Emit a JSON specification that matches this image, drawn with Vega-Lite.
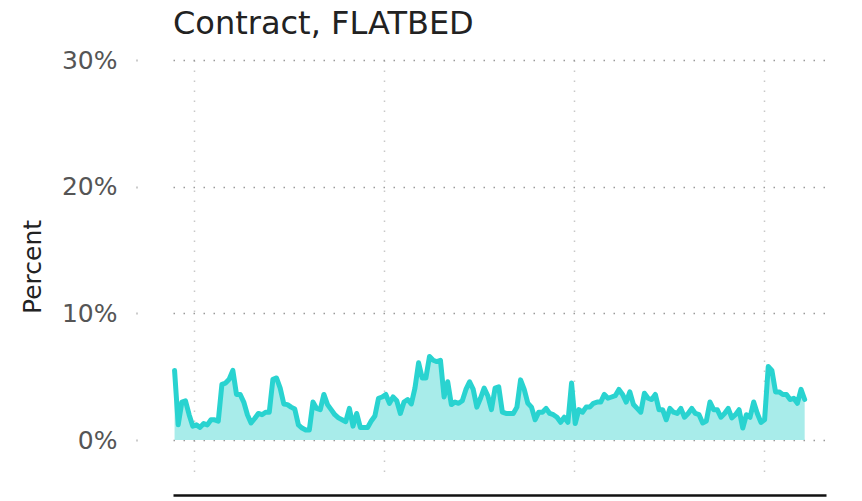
{
  "$schema": "https://vega.github.io/schema/vega-lite/v6.json",
  "autosize": {"type": "none"},
  "padding": {"left": 173, "top": 60, "right": 36, "bottom": 28},
  "width": 653,
  "height": 413,
  "background": "white",
  "title": {"text": "Contract, FLATBED", "anchor": "start", "frame": "group", "font": "DejaVu Sans", "fontSize": 32, "fontWeight": "normal", "color": "#222222", "offset": 7},
  "config": {"view": {"stroke": null}, "font": "DejaVu Sans"},
  "data": {"values": [
    {"date":"2018-11-25","pct":5.5},{"date":"2018-12-02","pct":1.2},{"date":"2018-12-09","pct":3.0},{"date":"2018-12-16","pct":3.1},{"date":"2018-12-23","pct":2.0},{"date":"2018-12-30","pct":1.1},
    {"date":"2019-01-06","pct":1.2},{"date":"2019-01-13","pct":1.0},{"date":"2019-01-20","pct":1.3},{"date":"2019-01-27","pct":1.2},{"date":"2019-02-03","pct":1.6},{"date":"2019-02-10","pct":1.6},{"date":"2019-02-17","pct":1.5},{"date":"2019-02-24","pct":4.4},{"date":"2019-03-03","pct":4.5},{"date":"2019-03-10","pct":4.8},{"date":"2019-03-17","pct":5.5},{"date":"2019-03-24","pct":3.6},{"date":"2019-03-31","pct":3.6},{"date":"2019-04-07","pct":3.0},{"date":"2019-04-14","pct":2.0},{"date":"2019-04-21","pct":1.35},{"date":"2019-04-28","pct":1.7},{"date":"2019-05-05","pct":2.1},{"date":"2019-05-12","pct":2.0},{"date":"2019-05-19","pct":2.2},{"date":"2019-05-26","pct":2.2},{"date":"2019-06-02","pct":4.8},{"date":"2019-06-09","pct":4.9},{"date":"2019-06-16","pct":4.1},{"date":"2019-06-23","pct":2.85},{"date":"2019-06-30","pct":2.8},{"date":"2019-07-07","pct":2.6},{"date":"2019-07-14","pct":2.45},{"date":"2019-07-21","pct":1.2},{"date":"2019-07-28","pct":0.95},{"date":"2019-08-04","pct":0.8},{"date":"2019-08-11","pct":0.8},{"date":"2019-08-18","pct":3.0},{"date":"2019-08-25","pct":2.5},{"date":"2019-09-01","pct":2.4},{"date":"2019-09-08","pct":3.6},{"date":"2019-09-15","pct":2.8},{"date":"2019-09-22","pct":2.4},{"date":"2019-09-29","pct":2.0},{"date":"2019-10-06","pct":1.75},{"date":"2019-10-13","pct":1.6},{"date":"2019-10-20","pct":1.45},{"date":"2019-10-27","pct":2.5},{"date":"2019-11-03","pct":1.1},{"date":"2019-11-10","pct":2.1},{"date":"2019-11-17","pct":1.0},{"date":"2019-11-24","pct":1.0},{"date":"2019-12-01","pct":1.0},{"date":"2019-12-08","pct":1.5},{"date":"2019-12-15","pct":1.9},{"date":"2019-12-22","pct":3.3},{"date":"2019-12-29","pct":3.4},
    {"date":"2020-01-05","pct":3.6},{"date":"2020-01-12","pct":2.9},{"date":"2020-01-19","pct":3.4},{"date":"2020-01-26","pct":3.1},{"date":"2020-02-02","pct":2.1},{"date":"2020-02-09","pct":3.0},{"date":"2020-02-16","pct":3.2},{"date":"2020-02-23","pct":2.85},{"date":"2020-03-01","pct":4.1},{"date":"2020-03-08","pct":6.1},{"date":"2020-03-15","pct":4.9},{"date":"2020-03-22","pct":4.9},{"date":"2020-03-29","pct":6.6},{"date":"2020-04-05","pct":6.3},{"date":"2020-04-12","pct":6.2},{"date":"2020-04-19","pct":6.3},{"date":"2020-04-26","pct":3.4},{"date":"2020-05-03","pct":4.6},{"date":"2020-05-10","pct":2.8},{"date":"2020-05-17","pct":3.0},{"date":"2020-05-24","pct":2.9},{"date":"2020-05-31","pct":3.1},{"date":"2020-06-07","pct":4.0},{"date":"2020-06-14","pct":4.6},{"date":"2020-06-21","pct":4.0},{"date":"2020-06-28","pct":2.6},{"date":"2020-07-05","pct":3.3},{"date":"2020-07-12","pct":4.1},{"date":"2020-07-19","pct":3.5},{"date":"2020-07-26","pct":2.4},{"date":"2020-08-02","pct":4.1},{"date":"2020-08-09","pct":4.2},{"date":"2020-08-16","pct":2.2},{"date":"2020-08-23","pct":2.1},{"date":"2020-08-30","pct":2.1},{"date":"2020-09-06","pct":2.1},{"date":"2020-09-13","pct":2.6},{"date":"2020-09-20","pct":4.75},{"date":"2020-09-27","pct":4.0},{"date":"2020-10-04","pct":2.9},{"date":"2020-10-11","pct":2.6},{"date":"2020-10-18","pct":1.6},{"date":"2020-10-25","pct":2.2},{"date":"2020-11-01","pct":2.2},{"date":"2020-11-08","pct":2.5},{"date":"2020-11-15","pct":2.1},{"date":"2020-11-22","pct":2.0},{"date":"2020-11-29","pct":1.8},{"date":"2020-12-06","pct":1.4},{"date":"2020-12-13","pct":1.8},{"date":"2020-12-20","pct":1.4},{"date":"2020-12-27","pct":4.5},
    {"date":"2021-01-03","pct":1.3},{"date":"2021-01-10","pct":2.4},{"date":"2021-01-17","pct":2.2},{"date":"2021-01-24","pct":2.6},{"date":"2021-01-31","pct":2.6},{"date":"2021-02-07","pct":2.9},{"date":"2021-02-14","pct":3.0},{"date":"2021-02-21","pct":3.0},{"date":"2021-02-28","pct":3.6},{"date":"2021-03-07","pct":3.3},{"date":"2021-03-14","pct":3.4},{"date":"2021-03-21","pct":3.5},{"date":"2021-03-28","pct":4.0},{"date":"2021-04-04","pct":3.6},{"date":"2021-04-11","pct":3.0},{"date":"2021-04-18","pct":3.8},{"date":"2021-04-25","pct":2.8},{"date":"2021-05-02","pct":2.5},{"date":"2021-05-09","pct":2.2},{"date":"2021-05-16","pct":3.7},{"date":"2021-05-23","pct":3.3},{"date":"2021-05-30","pct":3.2},{"date":"2021-06-06","pct":3.6},{"date":"2021-06-13","pct":2.4},{"date":"2021-06-20","pct":2.4},{"date":"2021-06-27","pct":1.6},{"date":"2021-07-04","pct":2.5},{"date":"2021-07-11","pct":2.2},{"date":"2021-07-18","pct":2.1},{"date":"2021-07-25","pct":2.5},{"date":"2021-08-01","pct":1.8},{"date":"2021-08-08","pct":2.1},{"date":"2021-08-15","pct":2.5},{"date":"2021-08-22","pct":2.1},{"date":"2021-08-29","pct":2.0},{"date":"2021-09-05","pct":1.35},{"date":"2021-09-12","pct":1.5},{"date":"2021-09-19","pct":3.0},{"date":"2021-09-26","pct":2.4},{"date":"2021-10-03","pct":2.4},{"date":"2021-10-10","pct":1.8},{"date":"2021-10-17","pct":2.1},{"date":"2021-10-24","pct":2.5},{"date":"2021-10-31","pct":1.75},{"date":"2021-11-07","pct":2.0},{"date":"2021-11-14","pct":2.4},{"date":"2021-11-21","pct":0.95},{"date":"2021-11-28","pct":2.0},{"date":"2021-12-05","pct":1.8},{"date":"2021-12-12","pct":3.0},{"date":"2021-12-19","pct":2.1},{"date":"2021-12-26","pct":1.4},
    {"date":"2022-01-02","pct":1.6},{"date":"2022-01-09","pct":5.8},{"date":"2022-01-16","pct":5.5},{"date":"2022-01-23","pct":3.8},{"date":"2022-01-30","pct":3.8},{"date":"2022-02-06","pct":3.6},{"date":"2022-02-13","pct":3.6},{"date":"2022-02-20","pct":3.2},{"date":"2022-02-27","pct":3.3},{"date":"2022-03-06","pct":2.9},{"date":"2022-03-13","pct":4.0},{"date":"2022-03-20","pct":3.2}
  ]},
  "encoding": {
    "x": {
      "field": "date", "type": "temporal", "title": null,
      "scale": {"type": "utc", "domain": [{"year": 2018, "month": 11, "date": 22, "utc": true}, {"year": 2022, "month": 4, "date": 30, "utc": true}]},
      "axis": {
        "values": [{"year": 2019, "month": 1, "date": 1, "utc": true}, {"year": 2020, "month": 1, "date": 1, "utc": true}, {"year": 2021, "month": 1, "date": 1, "utc": true}, {"year": 2022, "month": 1, "date": 1, "utc": true}],
        "labels": false, "ticks": false,
        "domain": true, "domainColor": "#111111", "domainWidth": 2.5, "offset": 22,
        "grid": true, "gridColor": "#c8c8c8", "gridWidth": 1.5, "gridDash": [1.5, 8.5]
      }
    },
    "y": {
      "field": "pct", "type": "quantitative", "title": "Percent",
      "scale": {"domain": [-2.6, 30], "nice": false, "zero": false},
      "axis": {
        "values": [0, 10, 20, 30], "labelExpr": "datum.value + '%'",
        "labelFont": "DejaVu Sans", "labelFontSize": 25, "labelColor": "#555555", "labelPadding": 19,
        "titleFont": "DejaVu Sans", "titleFontSize": 25, "titleFontWeight": "normal", "titleColor": "#222222", "titlePadding": 16,
        "domain": false, "offset": 36,
        "ticks": true, "tickSize": 1, "tickWidth": 2, "tickColor": "#999999",
        "grid": true, "gridColor": "#999999", "gridWidth": 1.5, "gridDash": [1.5, 8.5]
      }
    }
  },
  "layer": [
    {"mark": {"type": "area", "color": "#a8ecea", "opacity": 1}, "encoding": {"y2": {"datum": 0}}},
    {"mark": {"type": "line", "color": "#29d3d0", "strokeWidth": 5, "strokeJoin": "round", "strokeCap": "round"}}
  ]
}
